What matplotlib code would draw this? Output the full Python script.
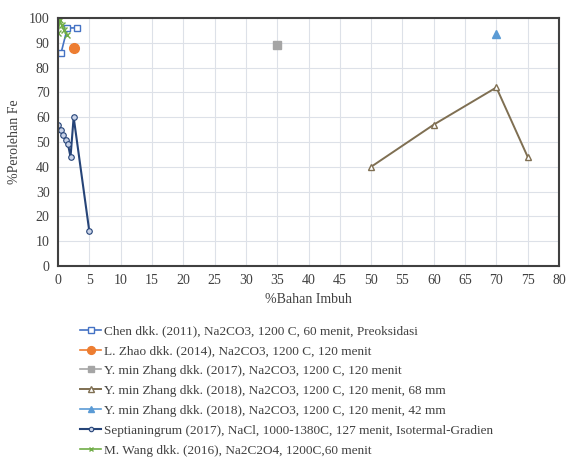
import matplotlib
matplotlib.use("Agg")
import matplotlib.pyplot as plt
from matplotlib.ticker import MultipleLocator

plt.rcParams['font.family'] = ['Liberation Serif', 'DejaVu Serif']

# Series data: %Bahan Imbuh vs %Perolehan Fe
chen_x = [0.5, 1.5, 3.0]
chen_y = [86, 96, 96]

zhao_x = [2.5]
zhao_y = [88]

zhang17_x = [35]
zhang17_y = [89]

zhang18_68_x = [50, 60, 70, 75]
zhang18_68_y = [40, 57, 72, 44]

zhang18_42_x = [70]
zhang18_42_y = [93.5]

sept_x = [0, 0.4, 0.8, 1.2, 1.6, 2.0, 2.5, 5.0]
sept_y = [57, 55, 53, 51, 49, 44, 60, 14]

wang_x = [0, 0.3, 0.6, 1.0, 1.5]
wang_y = [94, 99, 97, 95, 93]

labels = [
    "Chen dkk. (2011), Na2CO3, 1200 C, 60 menit, Preoksidasi",
    "L. Zhao dkk. (2014), Na2CO3, 1200 C, 120 menit",
    "Y. min Zhang dkk. (2017), Na2CO3, 1200 C, 120 menit",
    "Y. min Zhang dkk. (2018), Na2CO3, 1200 C, 120 menit, 68 mm",
    "Y. min Zhang dkk. (2018), Na2CO3, 1200 C, 120 menit, 42 mm",
    "Septianingrum (2017), NaCl, 1000-1380C, 127 menit, Isotermal-Gradien",
    "M. Wang dkk. (2016), Na2C2O4, 1200C,60 menit",
]

fig = plt.figure(figsize=(5.72, 4.69), dpi=100)
ax = fig.add_axes([58 / 572, 1 - 266 / 469, (559 - 58) / 572, (266 - 18) / 469])

ax.plot(chen_x, chen_y, color="#4472C4", lw=1.2, marker="s", ms=5,
        mfc="white", mec="#4472C4", mew=1, label=labels[0])
ax.plot(zhao_x, zhao_y, color="#ED7D31", lw=1.2, marker="o", ms=7,
        label=labels[1])
ax.plot(zhang17_x, zhang17_y, color="#A5A5A5", lw=1.2, marker="s", ms=6,
        label=labels[2])
ax.plot(zhang18_68_x, zhang18_68_y, color="#7F6F52", lw=1.4, marker="^", ms=5,
        mfc="white", mec="#7F6F52", mew=1, label=labels[3])
ax.plot(zhang18_42_x, zhang18_42_y, color="#5B9BD5", lw=1.2, marker="^", ms=6,
        label=labels[4])
ax.plot(sept_x, sept_y, color="#264478", lw=1.5, marker="o", ms=4,
        mfc="#C9D3E8", mec="#264478", mew=0.8, label=labels[5])
ax.plot(wang_x, wang_y, color="#70AD47", lw=1.2, marker="x", ms=4,
        mew=1, label=labels[6])

ax.set_xlim(0, 80)
ax.set_ylim(0, 100)
ax.xaxis.set_major_locator(MultipleLocator(5))
ax.yaxis.set_major_locator(MultipleLocator(10))
ax.grid(True, color="#DDE1E8", lw=0.8)
ax.set_axisbelow(True)
for s in ax.spines.values():
    s.set_color("#404040")
    s.set_linewidth(1.5)
ax.tick_params(length=0, labelsize=10, colors="#404040", pad=6)

ax.set_xlabel("%Bahan Imbuh", fontsize=10, color="#404040", labelpad=4)
ax.set_ylabel("%Perolehan Fe", fontsize=10, color="#404040", labelpad=6)

leg = fig.legend(loc="upper left", bbox_to_anchor=(80 / 572, 1 - 325 / 469),
                 frameon=False, fontsize=9.5, handlelength=1.6,
                 handletextpad=0.2, labelspacing=0.58, borderaxespad=0,
                 borderpad=0, labelcolor="#404040", markerscale=0.8)

fig.savefig("out.png", dpi=100)
